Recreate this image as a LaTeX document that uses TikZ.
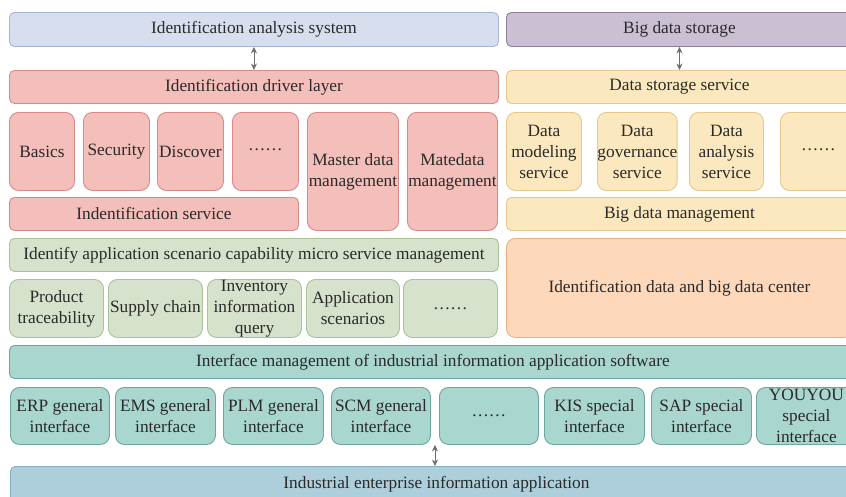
\documentclass[tikz,border=0pt]{standalone}
\usepackage{fontspec}
\setmainfont{Liberation Serif}
\usetikzlibrary{arrows.meta,calc}

\definecolor{txt}{HTML}{2A2A2A}
\definecolor{arr}{HTML}{6E6E6E}
\definecolor{bluF}{HTML}{D7DFEF}\definecolor{bluD}{HTML}{A6B5D5}
\definecolor{purF}{HTML}{CBBFD4}\definecolor{purD}{HTML}{8E7F9C}
\definecolor{pnkF}{HTML}{F4BEBA}\definecolor{pnkD}{HTML}{D98A87}
\definecolor{yelF}{HTML}{FBE8BE}\definecolor{yelD}{HTML}{E6C88C}
\definecolor{grnF}{HTML}{D6E2CB}\definecolor{grnD}{HTML}{A8C496}
\definecolor{orgF}{HTML}{FDD8BB}\definecolor{orgD}{HTML}{EFAF7C}
\definecolor{tealF}{HTML}{A9D6CF}\definecolor{tealD}{HTML}{6CA69E}
\definecolor{bbF}{HTML}{ACCFDB}\definecolor{bbD}{HTML}{85B1C1}

\tikzset{
  blk/.style={draw, line width=0.9pt, anchor=north west, inner sep=0pt,
    align=center, text=txt, font=\fontsize{17.3}{21}\selectfont},
  bar/.style={blk, rounded corners=5pt},
  tile/.style={blk, rounded corners=9pt},
  blu/.style={fill=bluF, draw=bluD},
  pur/.style={fill=purF, draw=purD},
  pnk/.style={fill=pnkF, draw=pnkD},
  yel/.style={fill=yelF, draw=yelD},
  grn/.style={fill=grnF, draw=grnD},
  org/.style={fill=orgF, draw=orgD},
  teal/.style={fill=tealF, draw=tealD},
  bb/.style={fill=bbF, draw=bbD},
  dar/.style={draw=arr, line width=0.8pt, {Stealth[length=6.5pt,width=6pt]}-{Stealth[length=6.5pt,width=6pt]}},
}

\begin{document}
\begin{tikzpicture}[x=1pt,y=-1pt]
\path[use as bounding box] (0,0) rectangle (846,496);
\clip (0,0) rectangle (846,496);
\fill[white] (0,0) rectangle (846,496);

% top systems
\node[bar,blu,minimum width=489pt,minimum height=34pt] (ias) at (9,12) {Identification analysis system};
\node[bar,pur,minimum width=346pt,minimum height=34pt] (bds) at (506,12) {Big data storage};

% identification side
\node[bar,pnk,minimum width=489pt,minimum height=33pt] (idl) at (9,70) {Identification driver layer};
\node[tile,pnk,minimum width=65pt,minimum height=78pt] (bas) at (9,112) {Basics};
\node[tile,pnk,minimum width=66pt,minimum height=78pt] (sec) at (83,112) {Security};
\node[tile,pnk,minimum width=66pt,minimum height=78pt] (dis) at (157,112) {Discover};
\node[tile,pnk,minimum width=66pt,minimum height=78pt] (dt1) at (232,112) {\raisebox{3pt}{\ldots\ldots}};
\node[tile,pnk,minimum width=91pt,minimum height=118pt] (mdm) at (307,112) {Master data\\management};
\node[tile,pnk,minimum width=90pt,minimum height=118pt] (mtm) at (407,112) {Matedata\\management};
\node[bar,pnk,minimum width=289pt,minimum height=33pt] (ids) at (9,197) {Indentification service};

% data side
\node[bar,yel,minimum width=346pt,minimum height=33pt] (dss) at (506,70) {Data storage service};
\node[tile,yel,minimum width=75pt,minimum height=78pt] (dms) at (506,112) {Data\\modeling\\service};
\node[tile,yel,minimum width=75pt,minimum height=78pt] (dgs) at (597,112) {Data\\governance\\service};
\node[tile,yel,minimum width=74pt,minimum height=78pt] (das) at (689,112) {Data\\analysis\\service};
\node[tile,yel,minimum width=76pt,minimum height=78pt] (dt2) at (780,112) {\raisebox{3pt}{\ldots\ldots}};
\node[bar,yel,minimum width=346pt,minimum height=33pt] (bdm) at (506,197) {Big data management};

% application scenarios
\node[bar,grn,minimum width=489pt,minimum height=33pt] (asc) at (9,238) {Identify application scenario capability micro service management};
\node[tile,grn,minimum width=94pt,minimum height=58pt] (prt) at (9,279) {Product\\traceability};
\node[tile,grn,minimum width=94pt,minimum height=58pt] (spc) at (108,279) {Supply chain};
\node[tile,grn,minimum width=94pt,minimum height=58pt] (inv) at (207,279) {Inventory\\information\\query};
\node[tile,grn,minimum width=93pt,minimum height=58pt] (aps) at (306,279) {Application\\scenarios};
\node[tile,grn,minimum width=94pt,minimum height=58pt] (dt3) at (403,279) {\ldots\ldots};
\node[tile,org,minimum width=346pt,minimum height=99pt] (idc) at (506,238) {Identification data and big data center};

% interfaces
\node[bar,teal,minimum width=847pt,minimum height=33pt] (imi) at (9,345) {Interface management of industrial information application software};
\node[tile,teal,minimum width=99pt,minimum height=57pt] (erp) at (10,387) {ERP general\\interface};
\node[tile,teal,minimum width=100pt,minimum height=57pt] (ems) at (115,387) {EMS general\\interface};
\node[tile,teal,minimum width=100pt,minimum height=57pt] (plm) at (223,387) {PLM general\\interface};
\node[tile,teal,minimum width=99pt,minimum height=57pt] (scm) at (331,387) {SCM general\\interface};
\node[tile,teal,minimum width=99pt,minimum height=57pt] (dt4) at (439,387) {\ldots\ldots};
\node[tile,teal,minimum width=100pt,minimum height=57pt] (kis) at (544,387) {KIS special\\interface};
\node[tile,teal,minimum width=100pt,minimum height=57pt] (sap) at (651,387) {SAP special\\interface};
\node[tile,teal,minimum width=100pt,minimum height=57pt] (you) at (756,387) {YOUYOU\\special\\interface};

% enterprise applications
\node[bar,bb,minimum width=852pt,minimum height=36pt] (iea) at (10,466) {Industrial enterprise information application};

% links
\draw[dar] (ias.south) -- (idl.north);
\draw[dar] (bds.south) -- (dss.north);
\coordinate (gap) at ($(scm.south east)!0.5!(dt4.south west)$);
\draw[dar] (gap) -- (gap |- iea.north);
\end{tikzpicture}
\end{document}
